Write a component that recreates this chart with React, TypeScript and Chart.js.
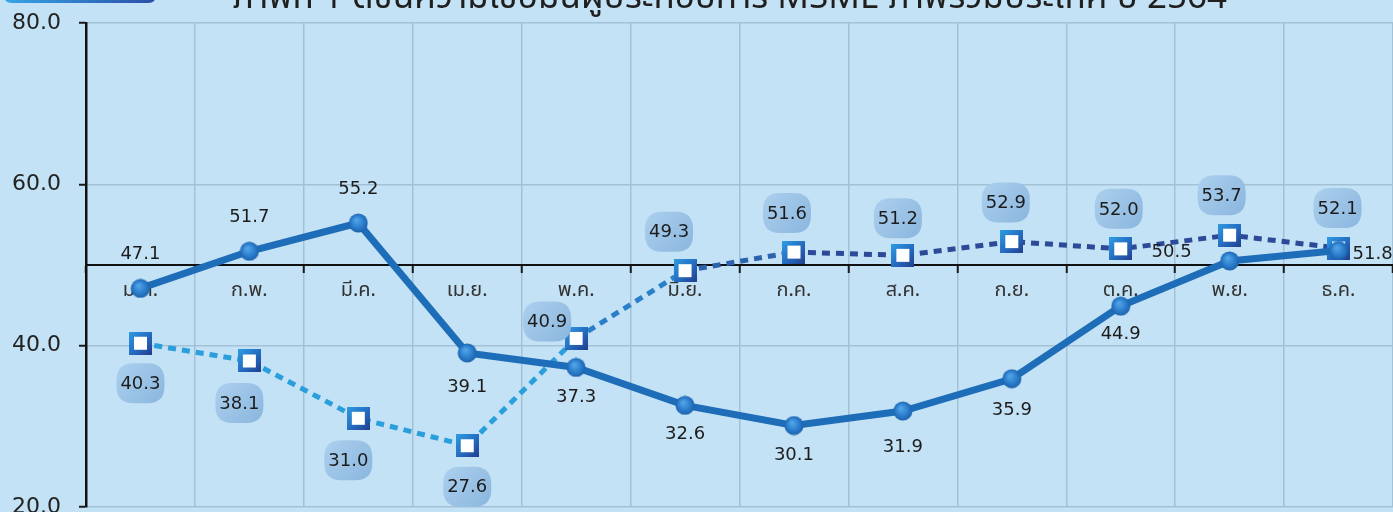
import React, { useEffect, useRef } from "react";
import { Chart, registerables } from "chart.js";

Chart.register(...registerables);

const months = ["ม.ค.", "ก.พ.", "มี.ค.", "เม.ย.", "พ.ค.", "มิ.ย.", "ก.ค.", "ส.ค.", "ก.ย.", "ต.ค.", "พ.ย.", "ธ.ค."];
const solidSeries = [47.1, 51.7, 55.2, 39.1, 37.3, 32.6, 30.1, 31.9, 35.9, 44.9, 50.5, 51.8];
const dottedSeries = [40.3, 38.1, 31.0, 27.6, 40.9, 49.3, 51.6, 51.2, 52.9, 52.0, 53.7, 52.1];
const yMin = 20;
const yMax = 80;
const yStep = 20;
const baseLineValue = 50;
const titleText = "ภาพที่ 1 ดัชนีความเชื่อมั่นผู้ประกอบการ MSME ภาพรวมประเทศ ปี 2564";

// label placement (layout only): [dx, dy] in pixels relative to the point
const solidLabelOffsets = [
  [0, -34], [0, -34], [0, -34], [0, 34], [0, 30], [0, 29],
  [0, 30], [0, 36], [0, 32], [0, 28], [-58, -9], [34, 4],
];
const dottedLabelOffsets = [
  [0, 40], [-10, 42], [-10, 42], [0, 41], [-29, -17], [-16, -39],
  [-7, -39], [-5, -37], [-6, -39], [-2, -40], [-8, -40], [-1, -40],
];

const BG = "#c4e2f5";
const GRID = "#a2c1d7";
const NUM_FONT = "'DejaVu Sans', Verdana, sans-serif";
const THAI_FONT = "Tahoma, 'Noto Sans Thai', 'Noto Sans', 'DejaVu Sans', sans-serif";

function makeCircleMarker(): HTMLCanvasElement {
  const c = document.createElement("canvas");
  c.width = 20;
  c.height = 20;
  const ctx = c.getContext("2d")!;
  const g = ctx.createRadialGradient(8, 7, 1, 10, 10, 10);
  g.addColorStop(0, "#4fa3e6");
  g.addColorStop(0.6, "#2a7ccb");
  g.addColorStop(1, "#1b5fa8");
  ctx.fillStyle = g;
  ctx.beginPath();
  ctx.arc(10, 10, 9.5, 0, Math.PI * 2);
  ctx.fill();
  return c;
}

function makeSquareMarker(): HTMLCanvasElement {
  const c = document.createElement("canvas");
  c.width = 23;
  c.height = 23;
  const ctx = c.getContext("2d")!;
  const g = ctx.createLinearGradient(0, 0, 23, 23);
  g.addColorStop(0, "#2f9de2");
  g.addColorStop(0.5, "#2570c4");
  g.addColorStop(1, "#233d8e");
  ctx.fillStyle = g;
  ctx.fillRect(0, 0, 23, 23);
  ctx.fillStyle = "#ffffff";
  ctx.fillRect(5, 5, 13, 13);
  return c;
}

function roundRect(ctx: CanvasRenderingContext2D, x: number, y: number, w: number, h: number, r: number) {
  ctx.beginPath();
  ctx.moveTo(x + r, y);
  ctx.lineTo(x + w - r, y);
  ctx.quadraticCurveTo(x + w, y, x + w, y + r);
  ctx.lineTo(x + w, y + h - r);
  ctx.quadraticCurveTo(x + w, y + h, x + w - r, y + h);
  ctx.lineTo(x + r, y + h);
  ctx.quadraticCurveTo(x, y + h, x, y + h - r);
  ctx.lineTo(x, y + r);
  ctx.quadraticCurveTo(x, y, x + r, y);
  ctx.closePath();
}

const backgroundPlugin = {
  id: "bgTitle",
  beforeDraw(chart: any) {
    const ctx = chart.ctx as CanvasRenderingContext2D;
    ctx.save();
    ctx.fillStyle = BG;
    ctx.fillRect(0, 0, chart.width, chart.height);
    const g = ctx.createLinearGradient(4, 0, 156, 0);
    g.addColorStop(0, "#36a6e6");
    g.addColorStop(1, "#2b4ea6");
    ctx.fillStyle = g;
    roundRect(ctx, 4, -20, 152, 23, 8);
    ctx.fill();
    ctx.fillStyle = "#1f1f1f";
    ctx.font = `35px ${THAI_FONT}`;
    ctx.textAlign = "center";
    ctx.textBaseline = "alphabetic";
    ctx.fillText(titleText, 730, 8);
    ctx.restore();
  },
};

const labelsPlugin = {
  id: "valueLabels",
  afterDatasetsDraw(chart: any) {
    const ctx = chart.ctx as CanvasRenderingContext2D;
    ctx.save();
    ctx.font = `18px ${NUM_FONT}`;
    ctx.textAlign = "center";
    ctx.textBaseline = "middle";
    const m1 = chart.getDatasetMeta(1);
    m1.data.forEach((pt: any, i: number) => {
      const [dx, dy] = dottedLabelOffsets[i];
      const cx = pt.x + dx;
      const cy = pt.y + dy;
      const w = 48;
      const h = 40;
      const g = ctx.createLinearGradient(cx - w / 2, cy - h / 2, cx + w / 2, cy + h / 2);
      g.addColorStop(0, "#acd0ee");
      g.addColorStop(1, "#8ab6de");
      ctx.fillStyle = g;
      roundRect(ctx, cx - w / 2, cy - h / 2, w, h, 17);
      ctx.fill();
      ctx.fillStyle = "#1c1c1c";
      ctx.fillText(dottedSeries[i].toFixed(1), cx, cy + 1);
    });
    const m0 = chart.getDatasetMeta(0);
    m0.data.forEach((pt: any, i: number) => {
      const [dx, dy] = solidLabelOffsets[i];
      ctx.fillStyle = "#1c1c1c";
      ctx.fillText(solidSeries[i].toFixed(1), pt.x + dx, pt.y + dy);
    });
    ctx.restore();
  },
};

export default function App() {
  const ref = useRef<HTMLCanvasElement | null>(null);

  useEffect(() => {
    if (!ref.current) return;
    const circle = makeCircleMarker();
    const square = makeSquareMarker();
    const segColor = (ctx: any) => {
      const i = ctx.p0DataIndex;
      if (i < 4) return "#2a9fdc";
      if (i === 4) return "#2a80c8";
      if (i === 5) return "#2d62ad";
      return "#2c4a98";
    };
    const chart = new Chart(ref.current, {
      type: "line",
      data: {
        labels: months,
        datasets: [
          {
            label: "solid",
            data: solidSeries,
            borderColor: "#1e6db8",
            borderWidth: 7,
            pointStyle: circle as any,
            pointRadius: 10,
            tension: 0,
          },
          {
            label: "dotted",
            data: dottedSeries,
            borderColor: "#2a9fdc",
            borderWidth: 5,
            borderDash: [8, 6],
            pointStyle: square as any,
            pointRadius: 12,
            tension: 0,
            segment: { borderColor: segColor },
          },
        ],
      },
      options: {
        responsive: false,
        animation: false,
        layout: { autoPadding: false, padding: { top: 23, bottom: 5, left: 0, right: 0 } },
        plugins: {
          legend: { display: false },
          tooltip: { enabled: false },
          title: { display: false },
        },
        scales: {
          x: {
            type: "category",
            position: { y: baseLineValue } as any,
            offset: true,
            grid: {
              offset: true,
              color: GRID,
              lineWidth: 1.5,
              tickLength: 7,
              tickColor: "#1a1a1a",
              tickWidth: 2,
            },
            border: { color: "#111", width: 2 },
            ticks: {
              color: "#333",
              font: { family: THAI_FONT, size: 20 },
              padding: 8,
              maxRotation: 0,
              autoSkip: false,
            },
          },
          y: {
            min: yMin,
            max: yMax,
            afterFit: (scale: any) => {
              scale.width = 86;
              scale.paddingTop = 0;
              scale.paddingBottom = 0;
            },
            grid: {
              color: GRID,
              lineWidth: 1.5,
              tickLength: 7,
              tickColor: "#1a1a1a",
              tickWidth: 2,
            },
            border: { color: "#111", width: 2.5 },
            ticks: {
              stepSize: yStep,
              color: "#222",
              font: { family: NUM_FONT, size: 22 },
              padding: 18,
              callback: (v: any) => Number(v).toFixed(1),
            },
          },
        },
      },
      plugins: [backgroundPlugin, labelsPlugin],
    });
    return () => chart.destroy();
  }, []);

  return (
    <div style={{ position: "absolute", left: 0, top: 0, width: 1393, height: 512, overflow: "hidden" }}>
      <canvas ref={ref} width={1393} height={512} style={{ display: "block" }} />
    </div>
  );
}
